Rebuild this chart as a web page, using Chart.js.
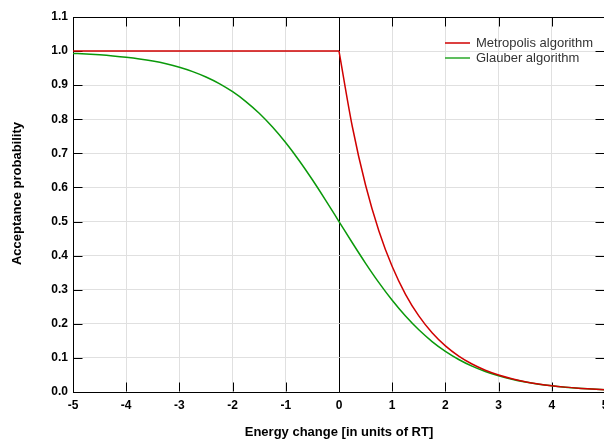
<!DOCTYPE html>
<html><head><meta charset="utf-8">
<script src="https://cdn.jsdelivr.net/npm/chart.js@4"></script>
<style>
html,body{margin:0;padding:0;background:#fff;overflow:hidden;width:604px;height:440px}
#wrap{width:620px;height:440px}
</style></head>
<body><div id="wrap"><canvas id="c" width="620" height="440"></canvas></div>
<script>
// ---- data ----
const energy = [-5,-4.75,-4.5,-4.25,-4,-3.75,-3.5,-3.25,-3,-2.75,-2.5,-2.25,-2,-1.75,-1.5,-1.25,-1,-0.75,-0.5,-0.25,
  0,0.25,0.5,0.75,1,1.25,1.5,1.75,2,2.25,2.5,2.75,3,3.25,3.5,3.75,4,4.25,4.5,4.75,5];
const metropolis = [1,1,1,1,1,1,1,1,1,1,1,1,1,1,1,1,1,1,1,1,
  1,0.7788,0.6065,0.4724,0.3679,0.2865,0.2231,0.1738,0.1353,0.1054,0.0821,0.0639,0.0498,0.0388,0.0302,0.0235,0.0183,0.0143,0.0111,0.0087,0.0067];
const glauber = [0.9933,0.9914,0.9890,0.9859,0.9820,0.9770,0.9707,0.9627,0.9526,0.9399,0.9241,0.9047,0.8808,0.8520,0.8176,0.7773,0.7311,0.6792,0.6225,0.5622,
  0.5,0.4378,0.3775,0.3208,0.2689,0.2227,0.1824,0.1480,0.1192,0.0954,0.0759,0.0601,0.0474,0.0373,0.0293,0.0230,0.0180,0.0141,0.0110,0.0086,0.0067];
const xTicks = [-5,-4,-3,-2,-1,0,1,2,3,4,5];
const yTicks = [0,0.1,0.2,0.3,0.4,0.5,0.6,0.7,0.8,0.9,1.0,1.1];
const seriesNames = ['Metropolis algorithm','Glauber algorithm'];
const xTitle = 'Energy change [in units of RT]';
const yTitle = 'Acceptance probability';

const RED = '#d00000', GREEN = '#0a990a';
const FAM = '"Liberation Sans", Arial, Helvetica, sans-serif';

const pts = (ys) => energy.map((x,i)=>({x:x,y:ys[i]}));
const metroPts = pts(metropolis);
const metroFlat = metroPts.filter(p=>p.x<=0);
const metroDecay = metroPts.filter(p=>p.x>=0);

const TL = 9;
const frame = {
  id:'frame',
  beforeDatasetsDraw(chart){
    const {ctx, chartArea:a, scales:{x,y}} = chart;
    ctx.save();
    ctx.strokeStyle='#000'; ctx.lineWidth=1;
    ctx.beginPath();
    const L=Math.round(a.left)+0.5, R=Math.round(a.right)-0.5, T=Math.round(a.top)+0.5, B=Math.round(a.bottom)-0.5;
    ctx.moveTo(L,T); ctx.lineTo(R,T); ctx.lineTo(R,B);
    yTicks.forEach(v=>{
      if(v<=0||v>=1.1) return;
      const py=Math.round(y.getPixelForValue(v))+0.5;
      ctx.moveTo(L,py); ctx.lineTo(L+TL,py);
      ctx.moveTo(R,py); ctx.lineTo(R-TL,py);
    });
    xTicks.forEach(v=>{
      if(v<=-5||v>=5) return;
      const px=Math.round(x.getPixelForValue(v))+0.5;
      ctx.moveTo(px,B); ctx.lineTo(px,B-TL);
      ctx.moveTo(px,T); ctx.lineTo(px,T+TL);
    });
    ctx.stroke();
    ctx.restore();
  },
  afterDraw(chart){
    const ctx=chart.ctx;
    ctx.save();
    // y axis title
    ctx.translate(17.5,193.5);
    ctx.rotate(-Math.PI/2);
    ctx.font='bold 13px '+FAM;
    ctx.fillStyle='#000'; ctx.textAlign='center'; ctx.textBaseline='middle';
    ctx.fillText(yTitle,0,0);
    ctx.restore();
    ctx.save();
    const items=[[seriesNames[0],RED,43],[seriesNames[1],'#2aa82a',58]];
    ctx.font='13px '+FAM;
    ctx.textBaseline='middle';
    items.forEach(([t,c,yy])=>{
      ctx.strokeStyle=c; ctx.lineWidth=1.5;
      ctx.beginPath(); ctx.moveTo(445,yy); ctx.lineTo(470,yy); ctx.stroke();
      ctx.fillStyle='#333'; ctx.fillText(t,476,yy);
    });
    ctx.restore();
  }
};

const tickFont = {family:FAM, size:12, weight:'bold'};
new Chart(document.getElementById('c'), {
  type:'line',
  data:{datasets:[
    {label:seriesNames[0], data:metroDecay, borderColor:RED, borderWidth:1.5, pointRadius:0, cubicInterpolationMode:'monotone', fill:false},
    {label:seriesNames[0]+' ', data:metroFlat, borderColor:RED, borderWidth:1.5, pointRadius:0, tension:0, fill:false},
    {label:seriesNames[1], data:pts(glauber), borderColor:GREEN, borderWidth:1.5, pointRadius:0, cubicInterpolationMode:'monotone', fill:false}
  ]},
  plugins:[frame],
  options:{
    responsive:false, animation:false, events:[],
    layout:{padding:{top:17,right:15,left:0,bottom:0}},
    plugins:{legend:{display:false}, tooltip:{enabled:false}},
    scales:{
      x:{type:'linear', min:-5, max:5,
        afterBuildTicks:s=>{s.ticks=xTicks.map(v=>({value:v}));},
        afterFit:s=>{s.height=48;},
        ticks:{font:tickFont, color:'#000', padding:6, maxRotation:0, callback:v=>String(v)},
        grid:{drawTicks:false, lineWidth:1, color:c=>{const v=c.tick&&c.tick.value; return (v===0||v===-5||v===5)?'#000':'#e0e0e0';}},
        border:{display:true,color:'#000',width:1},
        title:{display:true,text:xTitle,font:{family:FAM,size:13,weight:'bold'},color:'#000',padding:{top:0,bottom:0}}
      },
      y:{type:'linear', min:0, max:1.1,
        afterBuildTicks:s=>{s.ticks=yTicks.map(v=>({value:v}));},
        afterFit:s=>{s.width=73;},
        ticks:{font:tickFont, color:'#000', padding:5, callback:v=>Number(v).toFixed(1)},
        grid:{drawTicks:false, lineWidth:1, color:c=>{const v=c.tick&&c.tick.value; return (v===0||v>=1.09)?'#000':'#e0e0e0';}},
        border:{display:true,color:'#000',width:1},
        title:{display:false}
      }
    }
  }
});
</script>
</body></html>
